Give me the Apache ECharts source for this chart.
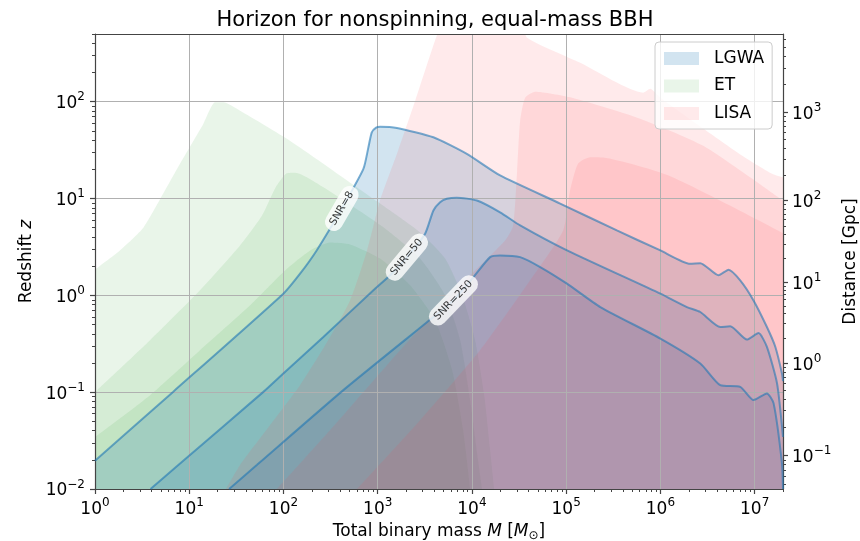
<!DOCTYPE html>
<html>
<head>
<meta charset="utf-8">
<script src="https://cdn.jsdelivr.net/npm/echarts@6/dist/echarts.min.js"></script>
<style>
html, body { margin: 0; padding: 0; background: #ffffff; }
#chart { width: 860px; height: 541px; }
</style>
</head>
<body>
<div id="chart"></div>
<script>
// ---- Horizon curves: [total binary mass M (Msun), redshift z] ----

// LGWA contours (SNR = 8, 50, 250)
const lgwaSnr8 = [[1,0.0196],[6.73,0.1007],[99.7,1.041],[150,1.674],[225,2.91],[416,7.89],[705,20.2],[797,33.8],[865,48.3],[962,54],[1060,55.2],[1600,53.6],[3900,42.9],[8830,28.9],[19900,17.3],[86300,8.87],[345000,4.68],[1.0e6,2.91],[2.07e6,2.12],[2.65e6,2.15],[4.14e6,1.61],[5.28e6,1.84],[7.03e6,1.43],[9.73e6,0.887],[1.35e7,0.471],[1.66e7,0.293],[1.95e7,0.156],[2.0e7,0.13]];
const lgwaSnr50 = [[3.88,0.01],[7.66,0.01767],[61.2,0.1007],[99.7,0.156],[265,0.372],[900,1.127],[1354,1.61],[2040,2.48],[3185,4.33],[3900,7.52],[4595,9.16],[5415,9.93],[6915,10.2],[11300,9.53],[19900,7.2],[32500,5.27],[1.02e5,2.91],[1.0e6,1.04],[1.91e6,0.757],[2.65e6,0.673],[4.32e6,0.471],[5.51e6,0.479],[8.28e6,0.349],[1.1e7,0.408],[1.35e7,0.293],[1.73e7,0.123],[2.0e7,0.0346]];
const lgwaSnr250 = [[26.5,0.01],[52.1,0.01767],[432,0.105],[3900,0.597],[6360,0.887],[10400,1.545],[15600,2.48],[19900,2.58],[32500,2.48],[53000,1.96],[1.02e5,1.32],[2.3e5,0.757],[1.0e6,0.358],[2.65e6,0.198],[4.32e6,0.118],[7.03e6,0.1135],[9.73e6,0.0828],[1.35e7,0.097],[1.59e7,0.0766],[1.95e7,0.0184],[2.0e7,0.01]];

// ET horizons (SNR = 8, 50, 250)
const etSnr8 = [[1,1.85],[1.84,2.91],[3.26,5.0],[4.9,9.8],[7.98,22.8],[14.1,58.9],[18.8,98.4],[23,98.4],[34.6,80.7],[117,39.6],[600,13.1],[1354,7.52],[2820,4.46],[5195,2.40],[7870,1.0],[10800,0.344],[13500,0.093],[15600,0.0252],[17200,0.01]];
const etSnr50 = [[1,0.1],[3.84,0.344],[13,1.127],[34.6,3.27],[59.3,6.68],[81.5,12.7],[108,18.2],[133,18.5],[265,13.1],[1150,5.06],[2820,2.40],[5195,1.0],[7500,0.344],[9570,0.0828],[11600,0.0199],[12800,0.01]];
const etSnr250 = [[1,0.0343],[3.84,0.0931],[13,0.271],[44.2,0.789],[104,1.81],[192,2.91],[313,3.52],[509,3.36],[1060,2.40],[2210,1.27],[4070,0.552],[6170,0.169],[8070,0.0406],[9570,0.01]];

// LISA horizons (SNR = 8, 50, 250)
const lisaSnr8 = [[24.6,0.01],[34.6,0.01767],[72.1,0.0457],[150,0.118],[277,0.305],[509,0.887],[771,2.91],[1060,9.53],[1650,31.3],[2500,102],[4270,491],[5190,700],[32500,700],[38500,457],[1.41e5,252],[6.56e5,124],[7.8e5,136],[1.0e6,110],[2.85e6,52.7],[7.03e6,28.5],[1.53e7,18],[2.0e7,16.5]];
const lisaSnr50 = [[85.5,0.01],[313,0.0406],[1730,0.271],[7500,1.27],[22500,3.69],[27400,5.27],[30200,19.5],[32500,63.7],[36700,110],[46900,127],[1.1e5,111],[5.67e5,68.4],[2.85e6,35],[2.0e7,9.5]];
const lisaSnr250 = [[604,0.01],[2820,0.0514],[12200,0.271],[41500,1.43],[92900,4.68],[1.1e5,12.1],[1.34e5,23],[1.8e5,26.7],[2.47e5,26.5],[1.27e6,17],[2.0e7,4.4]];

// Inline contour labels (position on the LGWA curves)
const snrLabelText = ['SNR=8', 'SNR=50', 'SNR=250'];
const snrLabelMass = [416, 2040, 6360];
const snrLabelZ = [7.89, 2.48, 0.887];

// Tick values
const massTicks = [1, 10, 100, 1e3, 1e4, 1e5, 1e6, 1e7];
const redshiftTicks = [0.01, 0.1, 1, 10, 100];
const distanceTicks = [0.1, 1, 10, 100, 1000]; // Gpc

// ---- Styling ----
const FONT = 'DejaVu Sans';
const AXIS_COLOR = '#444444';
const GRID_COLOR = '#b0b0b0';
const LGWA_FILL = 'rgba(31,119,180,0.2)';
const ET_FILL = 'rgba(44,160,44,0.1)';
const LISA_FILL = 'rgba(255,65,73,0.11)';
const LGWA_LINE = 'rgba(31,119,180,0.6)';
const TICK_FS = 17, NAME_FS = 17;
const X_MIN = 1, X_MAX = 2e7, Y_MIN = 0.01, Y_MAX = 500;

// ---- Luminosity distance (flat LCDM) for the right-hand axis ----
const H0 = 67.66, OM = 0.3097, OR = 9.1e-5, OL = 1 - OM - OR;
const HUBBLE_DIST = 299792.458 / H0 / 1000; // Gpc
function lumDist(z) {
  const n = 400, a = Math.log1p(z);
  let s = 0;
  for (let i = 0; i <= n; i++) {
    const zp = Math.exp(a * i / n);
    const f = zp / Math.sqrt(OR * zp * zp * zp * zp + OM * zp * zp * zp + OL);
    s += f * (i === 0 || i === n ? 1 : (i % 2 ? 4 : 2));
  }
  return (1 + z) * HUBBLE_DIST * s * a / (3 * n);
}
function redshiftAtDistance(d) {
  let lo = -4, hi = 4;
  for (let k = 0; k < 60; k++) {
    const mid = (lo + hi) / 2;
    if (lumDist(Math.pow(10, mid)) < d) lo = mid; else hi = mid;
  }
  return Math.pow(10, (lo + hi) / 2);
}
const distanceTickZ = distanceTicks.map(redshiftAtDistance);
const distanceMinorZ = [];
for (let k = -2; k <= 3; k++) {
  for (let m = 2; m <= 9; m++) {
    const z = redshiftAtDistance(m * Math.pow(10, k));
    if (z >= Y_MIN && z <= Y_MAX) distanceMinorZ.push(z);
  }
}
function minorDecades(lo, hi) {
  const out = [];
  for (let k = Math.floor(Math.log10(lo)); k <= Math.ceil(Math.log10(hi)); k++) {
    for (let m = 2; m <= 9; m++) {
      const v = m * Math.pow(10, k);
      if (v >= lo * 0.9999 && v <= hi * 1.0001) out.push(v);
    }
  }
  return out;
}

function expLabel(e) {
  return '{b|10}{s|' + (e < 0 ? '\u2212' + (-e) : String(e)) + '}';
}
function powLabel(v) { return expLabel(Math.round(Math.log10(v))); }
function distanceLabel(v) {
  let best = 0;
  distanceTickZ.forEach((z, i) => {
    if (Math.abs(Math.log10(z) - Math.log10(v)) < Math.abs(Math.log10(distanceTickZ[best]) - Math.log10(v))) best = i;
  });
  return powLabel(distanceTicks[best]);
}

const tickRich = {
  b: { fontFamily: FONT, fontSize: TICK_FS, color: '#000', lineHeight: 21, verticalAlign: 'bottom' },
  s: { fontFamily: FONT, fontSize: 12, color: '#000', lineHeight: 12, verticalAlign: 'top' }
};
const nameRich = {
  t: { fontFamily: FONT, fontSize: NAME_FS, color: '#000', lineHeight: 20 },
  i: { fontFamily: FONT, fontSize: NAME_FS, fontStyle: 'italic', color: '#000', lineHeight: 20 },
  sub: { fontFamily: FONT, fontSize: 12, color: '#000', lineHeight: 12, verticalAlign: 'bottom' }
};

function logAxis(extra, lo, hi) {
  return Object.assign({
    type: 'log', logBase: 10, min: lo, max: hi, z: 5,
    axisLine: { show: false, onZero: false, lineStyle: { color: AXIS_COLOR, width: 1.2 } },
    axisTick: { show: false },
    axisLabel: { show: false },
    splitLine: { show: false },
    minorTick: { show: false },
    minorSplitLine: { show: false }
  }, extra);
}

function fillSeries(name, data, color) {
  return {
    name, type: 'line', data, smooth: 0.2, symbol: 'none', silent: true, z: 2,
    lineStyle: { width: 0, opacity: 0 },
    itemStyle: { color },
    areaStyle: { color, opacity: 1, origin: 'start' }
  };
}
function contourSeries(data) {
  return {
    name: 'LGWA', type: 'line', data, smooth: 0.2, symbol: 'none', silent: true, z: 6,
    lineStyle: { color: LGWA_LINE, width: 2 },
    itemStyle: { color: LGWA_LINE }
  };
}

const labelAngles = [60, 50, 46];

const option = {
  animation: false,
  backgroundColor: '#ffffff',
  title: {
    text: 'Horizon for nonspinning, equal-mass BBH',
    left: 430, top: 5, textAlign: 'center',
    textStyle: { fontFamily: FONT, fontSize: 21, fontWeight: 'normal', color: '#000' }
  },
  grid: { left: 95, right: 77, top: 34, bottom: 52, containLabel: false, outerBoundsMode: 'none' },
  legend: {
    orient: 'vertical', left: 655, top: 42, z: 10,
    icon: 'rect', itemWidth: 35, itemHeight: 13, itemGap: 10.5,
    padding: [8, 8, 7, 9], selectedMode: false,
    backgroundColor: 'rgba(255,255,255,0.8)', borderColor: '#cccccc', borderWidth: 1, borderRadius: 4,
    formatter: '{t|{name}}',
    textStyle: {
      rich: { t: { fontFamily: FONT, fontSize: 17, color: '#000', lineHeight: 20, padding: [0, 0, 0, 10] } }
    },
    data: [
      { name: 'LGWA', itemStyle: { color: LGWA_FILL, borderWidth: 0 } },
      { name: 'ET', itemStyle: { color: ET_FILL, borderWidth: 0 } },
      { name: 'LISA', itemStyle: { color: LISA_FILL, borderWidth: 0 } }
    ]
  },
  xAxis: [
    logAxis({
      position: 'bottom',
      axisLine: { show: true, onZero: false, lineStyle: { color: AXIS_COLOR, width: 1.2 } },
      axisTick: { show: true, length: 5, customValues: massTicks, lineStyle: { color: AXIS_COLOR, width: 1.2 } },
      axisLabel: { show: true, customValues: massTicks, formatter: powLabel, rich: tickRich, margin: 8 },
      splitLine: { show: true, lineStyle: { color: GRID_COLOR, width: 1 } },
      name: '{t|Total binary mass }{i|M}{t| [}{i|M}{sub|\u2299}{t|]}',
      nameLocation: 'middle', nameGap: 29,
      nameTextStyle: { rich: nameRich }
    }, X_MIN, X_MAX),
    logAxis({
      position: 'bottom',
      axisTick: { show: true, length: 3, customValues: minorDecades(X_MIN, X_MAX), lineStyle: { color: AXIS_COLOR, width: 1 } }
    }, X_MIN, X_MAX),
    logAxis({
      position: 'top',
      axisLine: { show: true, onZero: false, lineStyle: { color: AXIS_COLOR, width: 1.2 } }
    }, X_MIN, X_MAX)
  ],
  yAxis: [
    logAxis({
      position: 'left',
      axisLine: { show: true, onZero: false, lineStyle: { color: AXIS_COLOR, width: 1.2 } },
      axisTick: { show: true, length: 5, customValues: redshiftTicks, lineStyle: { color: AXIS_COLOR, width: 1.2 } },
      axisLabel: { show: true, customValues: redshiftTicks, formatter: powLabel, rich: tickRich, margin: 10 },
      splitLine: { show: true, lineStyle: { color: GRID_COLOR, width: 1 } },
      name: '{t|Redshift }{i|z}',
      nameLocation: 'middle', nameGap: 56, nameRotate: 90,
      nameTextStyle: { rich: nameRich }
    }, Y_MIN, Y_MAX),
    logAxis({
      position: 'left',
      axisTick: { show: true, length: 3, customValues: minorDecades(Y_MIN, Y_MAX), lineStyle: { color: AXIS_COLOR, width: 1 } }
    }, Y_MIN, Y_MAX),
    logAxis({
      position: 'right',
      axisLine: { show: true, onZero: false, lineStyle: { color: AXIS_COLOR, width: 1.2 } },
      axisTick: { show: true, length: 5, customValues: distanceTickZ, lineStyle: { color: AXIS_COLOR, width: 1.2 } },
      axisLabel: { show: true, customValues: distanceTickZ, formatter: distanceLabel, rich: tickRich, margin: 9 },
      name: 'Distance [Gpc]',
      nameLocation: 'middle', nameGap: 50, nameRotate: 90,
      nameTextStyle: { fontFamily: FONT, fontSize: NAME_FS, color: '#000' }
    }, Y_MIN, Y_MAX),
    logAxis({
      position: 'right',
      axisTick: { show: true, length: 3, customValues: distanceMinorZ, lineStyle: { color: AXIS_COLOR, width: 1 } }
    }, Y_MIN, Y_MAX)
  ],
  series: [
    fillSeries('ET', etSnr8, ET_FILL),
    fillSeries('ET', etSnr50, ET_FILL),
    fillSeries('ET', etSnr250, ET_FILL),
    fillSeries('LGWA', lgwaSnr8, LGWA_FILL),
    fillSeries('LGWA', lgwaSnr50, LGWA_FILL),
    fillSeries('LGWA', lgwaSnr250, LGWA_FILL),
    fillSeries('LISA', lisaSnr8, LISA_FILL),
    fillSeries('LISA', lisaSnr50, LISA_FILL),
    fillSeries('LISA', lisaSnr250, LISA_FILL),
    contourSeries(lgwaSnr8),
    contourSeries(lgwaSnr50),
    contourSeries(lgwaSnr250),
    {
      name: 'SNR labels', type: 'scatter', silent: true, z: 7,
      symbolSize: 0,
      data: snrLabelText.map((t, i) => ({
        value: [snrLabelMass[i], snrLabelZ[i]],
        name: t,
        label: { rotate: labelAngles[i] }
      })),
      label: {
        show: true, position: 'inside',
        formatter: p => p.name,
        fontFamily: FONT, fontSize: 10.5, color: '#000',
        backgroundColor: '#ffffff', borderRadius: 9, padding: [4, 6, 3, 6]
      }
    }
  ]
};

const chart = echarts.init(document.getElementById('chart'), null, { renderer: 'canvas' });
chart.setOption(option);
</script>
</body>
</html>
